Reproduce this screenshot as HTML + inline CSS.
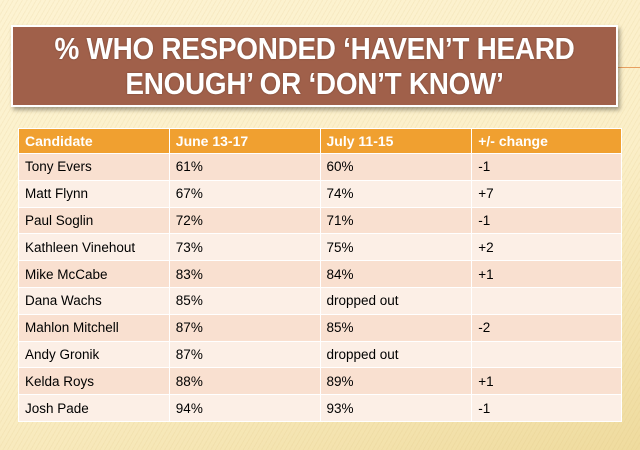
<!DOCTYPE html>
<html><head><meta charset="utf-8"><style>
body{margin:0;width:640px;height:450px;overflow:hidden;font-family:"Liberation Sans",sans-serif;
background:linear-gradient(160deg,#fdf3d2 0%,#fbefc8 55%,#efdb9e 100%);position:relative}
.stripes{position:absolute;inset:0;background:repeating-linear-gradient(120deg,rgba(255,255,255,0) 0 3px,rgba(210,180,110,.12) 3px 4px)}
#title{position:absolute;left:11px;top:25px;width:603px;height:78px;background:#a0604a;border:2px solid #fff;box-shadow:2px 3px 4px rgba(0,0,0,.35);color:#fff;font-weight:bold;text-align:center;text-shadow:0 0 2px rgba(0,0,0,.3)}
#title span{display:block;font-size:31px;line-height:35px;padding-top:4px;white-space:nowrap;transform:scaleX(0.9);letter-spacing:-0.3px}
#rule{position:absolute;left:616px;top:67px;width:24px;height:1px;background:#e8a060}
table{position:absolute;left:18px;top:128px;width:604px;border-collapse:collapse;font-size:13.5px}
td,th{border:1.5px solid #fff;padding:0 0 0 6px;text-align:left;height:25.8px}
th{background:#f0a030;color:#fff;font-weight:bold;height:24px;font-size:14px}
tr:nth-child(even) td{background:#f9e0d0}
tr:nth-child(odd) td{background:#fcefe6}
</style></head><body>
<div class="stripes"></div>
<div id="rule"></div>
<div id="title"><span>% WHO RESPONDED &lsquo;HAVEN&rsquo;T HEARD<br>ENOUGH&rsquo; OR &lsquo;DON&rsquo;T KNOW&rsquo;</span></div>
<table>
<colgroup><col style="width:151px"><col style="width:151px"><col style="width:152px"><col style="width:150px"></colgroup>
<tr><th>Candidate</th><th>June 13-17</th><th>July 11-15</th><th>+/- change</th></tr>
<tr><td>Tony Evers</td><td>61%</td><td>60%</td><td>-1</td></tr>
<tr><td>Matt Flynn</td><td>67%</td><td>74%</td><td>+7</td></tr>
<tr><td>Paul Soglin</td><td>72%</td><td>71%</td><td>-1</td></tr>
<tr><td>Kathleen Vinehout</td><td>73%</td><td>75%</td><td>+2</td></tr>
<tr><td>Mike McCabe</td><td>83%</td><td>84%</td><td>+1</td></tr>
<tr><td>Dana Wachs</td><td>85%</td><td>dropped out</td><td></td></tr>
<tr><td>Mahlon Mitchell</td><td>87%</td><td>85%</td><td>-2</td></tr>
<tr><td>Andy Gronik</td><td>87%</td><td>dropped out</td><td></td></tr>
<tr><td>Kelda Roys</td><td>88%</td><td>89%</td><td>+1</td></tr>
<tr><td>Josh Pade</td><td>94%</td><td>93%</td><td>-1</td></tr>
</table>
</body></html>
